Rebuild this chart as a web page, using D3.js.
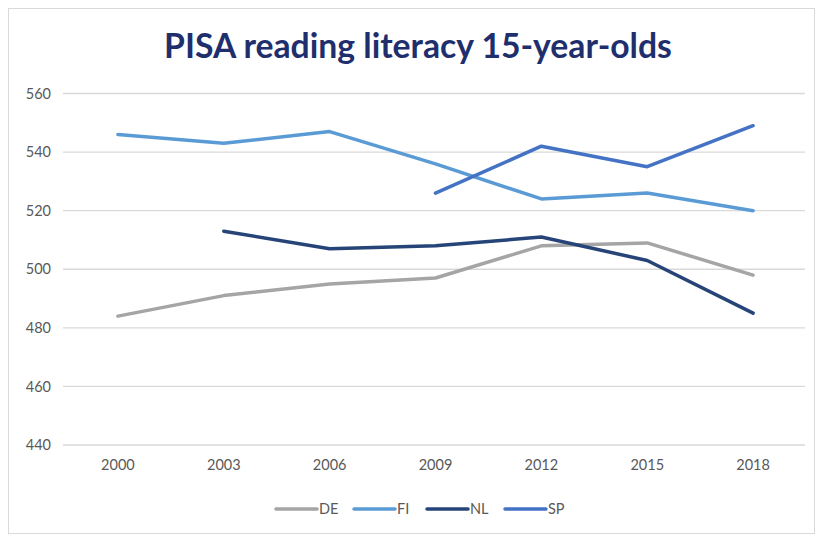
<!DOCTYPE html>
<html>
<head>
<meta charset="utf-8">
<script src="https://cdn.jsdelivr.net/npm/d3@7"></script>
<style>
  body { margin: 0; background: #fff; }
  svg { display: block; }
</style>
</head>
<body>
<svg id="chart" width="821" height="536"></svg>
<script>
var years = ["2000", "2003", "2006", "2009", "2012", "2015", "2018"]
var yTicks = [440, 460, 480, 500, 520, 540, 560]

// null = no result that year
var DE = [484, 491, 495, 497, 508, 509, 498]
var FI = [546, 543, 547, 536, 524, 526, 520]
var NL = [null, 513, 507, 508, 511, 503, 485]
var SP = [null, null, null, 526, 542, 535, 549]

var seriesNames = ["DE", "FI", "NL", "SP"]
var seriesValues = [DE, FI, NL, SP]
var seriesColors = ["#a5a5a5", "#5b9bd5", "#264478", "#4472c4"]

var svg = d3.select("#chart")
var font = "Lato, 'Noto Sans', sans-serif"

// outer chart frame
svg.append("rect")
	.attr("x", 8.5)
	.attr("y", 8.5)
	.attr("width", 806)
	.attr("height", 525)
	.attr("fill", "#fff")
	.attr("stroke", "#d9d9d9")
	.attr("stroke-width", 1)

var x = d3.scaleBand()
	.domain(years)
	.range([65, 806])

var y = d3.scaleLinear()
	.domain([440, 560])
	.range([445, 93.5])

// gridlines
svg.append("g")
	.selectAll("line")
	.data(yTicks)
	.enter()
	.append("line")
	.attr("x1", 63)
	.attr("x2", 805)
	.attr("y1", function(d) { return y(d) })
	.attr("y2", function(d) { return y(d) })
	.attr("stroke", "#d9d9d9")
	.attr("stroke-width", 1.3)

// y axis labels
var yAxis = d3.axisLeft(y).tickValues(yTicks).tickSize(0).tickPadding(0)
svg.append("g")
	.attr("transform", "translate(51,0)")
	.call(yAxis)
	.call(function(g) { g.select(".domain").remove() })
	.selectAll("text")
	.attr("font-family", font)
	.attr("font-size", "14.5px")
	.attr("fill", "#595959")

// x axis labels
var xAxis = d3.axisBottom(x).tickSize(0).tickPadding(0)
svg.append("g")
	.attr("transform", "translate(0,460)")
	.call(xAxis)
	.call(function(g) { g.select(".domain").remove() })
	.selectAll("text")
	.attr("font-family", font)
	.attr("font-size", "14.5px")
	.attr("fill", "#595959")

// lines
var line = d3.line()
	.defined(function(d) { return d.v !== null })
	.x(function(d) { return x(d.year) + x.bandwidth() / 2 })
	.y(function(d) { return y(d.v) })

svg.append("g")
	.selectAll("path")
	.data(seriesValues)
	.enter()
	.append("path")
	.attr("d", function(vals) {
		return line(vals.map(function(v, i) { return {year: years[i], v: v} }))
	})
	.attr("fill", "none")
	.attr("stroke", function(d, i) { return seriesColors[i] })
	.attr("stroke-width", 3.5)
	.attr("stroke-linejoin", "round")
	.attr("stroke-linecap", "round")

// title
var title = svg.append("text")
	.text("PISA reading literacy 15-year-olds")
	.attr("x", 418)
	.attr("y", 58)
	.attr("text-anchor", "middle")
	.attr("font-family", font)
	.attr("font-weight", "bold")
	.attr("font-size", "30px")
	.attr("fill", "#1f2f6e")
var tw = title.node().getComputedTextLength()
title.attr("font-size", (30 * 508 / tw) + "px")

// legend
var legendX = [276, 354, 427, 505]
var legend = svg.append("g")
	.selectAll("g")
	.data(seriesNames)
	.enter()
	.append("g")
	.attr("transform", function(d, i) { return "translate(" + legendX[i] + ",509)" })

legend.append("line")
	.attr("x1", 0)
	.attr("x2", 41)
	.attr("stroke", function(d, i) { return seriesColors[i] })
	.attr("stroke-width", 3.5)
	.attr("stroke-linecap", "round")

legend.append("text")
	.text(function(d) { return d })
	.attr("x", 43)
	.attr("dy", "0.35em")
	.attr("font-family", font)
	.attr("font-size", "14.5px")
	.attr("fill", "#595959")
</script>
</body>
</html>
